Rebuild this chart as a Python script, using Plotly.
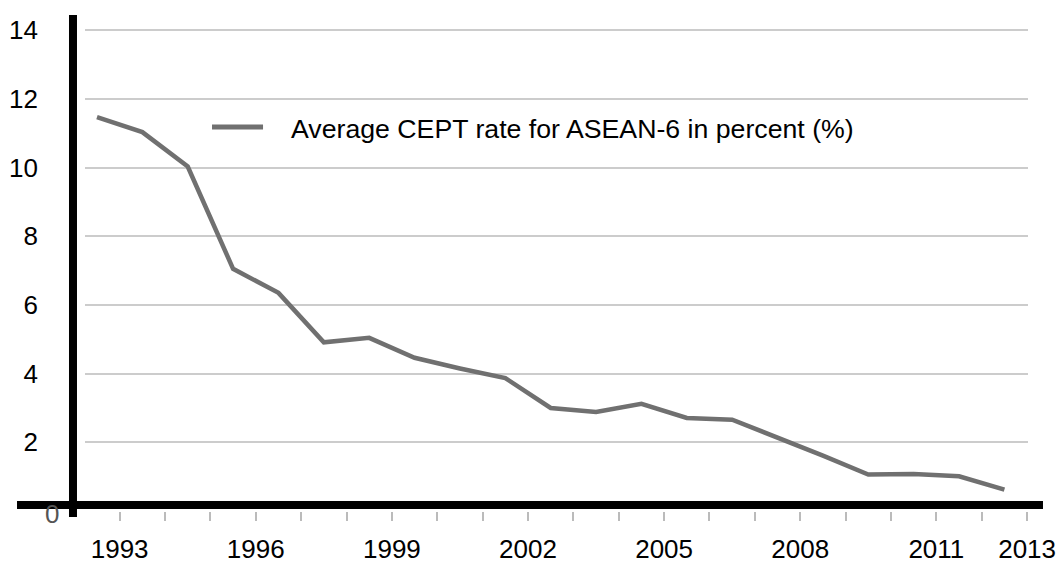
import plotly.graph_objects as go

# Average CEPT tariff rate for ASEAN-6, by year
years = list(range(1993, 2014))
cept_rate = [11.47, 11.03, 10.03, 7.05, 6.35, 4.91, 5.04, 4.46, 4.15, 3.87,
             3.00, 2.88, 3.12, 2.71, 2.66, 2.14, 1.61, 1.06, 1.08, 1.01, 0.62]

series_name = "Average CEPT rate for ASEAN-6 in percent (%)"
x_tick_labels = ["1993", "1996", "1999", "2002", "2005", "2008", "2011", "2013"]
y_tick_values = [2, 4, 6, 8, 10, 12, 14]

FONT = "Liberation Sans, Arial, sans-serif"
FONT_SIZE = 26
LINE_GREY = "#707070"

# labels sit on the boundaries between yearly categories
x_label_pos = [int(t) + 0.5 for t in x_tick_labels]
boundaries = [y + 0.5 for y in years]

fig = go.Figure()
fig.add_trace(go.Scatter(
    x=years, y=cept_rate, mode="lines", name=series_name,
    line=dict(color=LINE_GREY, width=4.5), showlegend=False,
))

fig.update_layout(
    width=1060, height=563,
    margin=dict(l=85, r=32, t=15, b=52),
    paper_bgcolor="white", plot_bgcolor="white",
    font=dict(family=FONT, size=FONT_SIZE, color="black"),
    xaxis=dict(
        range=[1992.736, 2013.52], showgrid=False, zeroline=False, showline=False,
        automargin=False,
        tickvals=x_label_pos, ticktext=x_tick_labels, ticks="",
        ticklabelstandoff=20,
        minor=dict(tickvals=boundaries, ticks="outside", ticklen=9,
                   tickwidth=2, tickcolor="#bbbbbb", showgrid=False),
    ),
    yaxis=dict(
        range=[0, 14.44], showgrid=True, gridcolor="#cccccc", gridwidth=2,
        zeroline=False, showline=False, tickvals=y_tick_values, ticks="",
        automargin=False, ticklabelstandoff=46,
    ),
)

# thick black axis lines drawn over the plot edges
fig.add_shape(type="line", xref="paper", yref="paper",
              x0=-0.0721, x1=1.0159, y0=0.0121, y1=0.0121,
              line=dict(color="black", width=8), layer="above")
fig.add_shape(type="line", xref="paper", yref="paper",
              x0=-0.01273, x1=-0.01273, y0=-0.0121, y1=1.0,
              line=dict(color="black", width=8), layer="above")

# zero label, tucked under the x axis line
fig.add_annotation(text="0", xref="paper", yref="paper", x=-0.035, y=-0.006,
                   xanchor="center", yanchor="middle", showarrow=False,
                   font=dict(family=FONT, size=FONT_SIZE, color="#555555"))

# legend key drawn inside the plot
fig.add_shape(type="line", xref="paper", yref="paper",
              x0=0.1347, x1=0.1888, y0=0.7742, y1=0.7742,
              line=dict(color=LINE_GREY, width=5))
fig.add_annotation(text=series_name, xref="paper", yref="paper",
                   x=0.2163, y=0.7692, xanchor="left", yanchor="middle",
                   showarrow=False, font=dict(family=FONT, size=26.7, color="black"))

fig.write_html("out.html")
